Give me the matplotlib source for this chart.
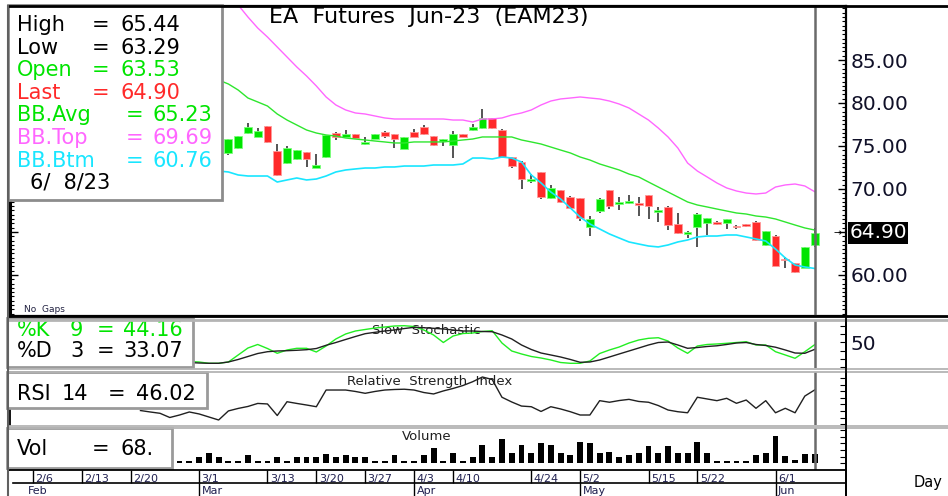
import numpy as np
import matplotlib.pyplot as plt
from matplotlib.patches import Rectangle
from matplotlib.lines import Line2D
from matplotlib.ticker import MultipleLocator

plt.rcParams['font.family'] = ['DejaVu Sans']

# ---- data (bar index 0 = 2/6) ----
date_ticks = [0, 5, 10, 17, 24, 29, 34, 39, 43, 51, 56, 63, 68, 76]
date_labels = ['2/6', '2/13', '2/20', '3/1', '3/13', '3/20', '3/27', '4/3',
               '4/10', '4/24', '5/2', '5/15', '5/22', '6/1']
month_ticks = [-0.8, 17, 39, 56, 76]
month_labels = ['Feb', 'Mar', 'Apr', 'May', 'Jun']

candle_start = 20
opens = [74.15, 74.8, 76.55, 76.08, 77.29, 74.42, 73.06, 73.52, 74.26, 72.44,
         73.69, 76.55, 76.05, 76.4, 75.2, 75.85, 76.67, 76.4, 74.62, 76.67,
         77.17, 76.12, 75.58, 75.08, 76.4, 76.86, 77.09, 78.22, 76.9, 73.72,
         73.14, 70.97, 71.98, 68.99, 69.84, 69.11, 68.99, 65.62, 67.41, 69.88,
         68.22, 68.34, 68.34, 69.26, 67.29, 67.95, 65.9, 64.8, 65.54, 66.01,
         66.2, 66.05, 65.74, 65.9, 66.2, 63.49, 64.57, 61.86, 61.36, 60.86, 63.53]
highs = [75.85, 76.2, 77.64, 77.06, 77.3, 75.27, 75.03, 74.55, 74.3, 74.03,
         76.3, 76.6, 76.83, 76.45, 76.0, 76.45, 76.7, 76.45, 76.1, 76.98,
         77.44, 76.15, 75.8, 76.78, 76.45, 77.6, 79.3, 78.25, 76.95, 73.75,
         73.2, 71.7, 72.0, 70.43, 69.9, 69.15, 69.0, 66.86, 68.9, 69.9,
         69.11, 69.3, 69.1, 69.3, 67.95, 68.0, 67.17, 65.1, 67.15, 66.65,
         66.25, 66.5, 65.8, 65.95, 66.25, 65.1, 64.6, 62.13, 61.4, 63.25, 65.44]
lows = [74.0, 74.6, 76.4, 76.0, 75.4, 71.5, 72.94, 73.41, 72.56, 72.4,
        73.57, 75.74, 76.0, 75.8, 75.15, 75.8, 75.97, 74.73, 74.6, 76.0,
        76.3, 75.0, 75.03, 73.57, 76.0, 76.8, 77.0, 76.94, 73.57, 72.48,
        70.04, 70.66, 68.8, 68.8, 68.34, 67.8, 66.28, 64.53, 67.26, 67.64,
        67.56, 68.3, 66.86, 66.55, 66.16, 65.23, 64.8, 64.27, 63.29, 64.65,
        65.82, 65.31, 65.31, 65.54, 64.0, 63.4, 61.0, 60.78, 60.25, 60.8, 63.29]
closes = [75.78, 76.13, 77.17, 76.78, 75.47, 71.59, 74.77, 74.5, 73.45, 72.76,
          76.24, 76.05, 76.4, 75.9, 75.5, 76.4, 76.2, 75.86, 76.05, 76.08,
          76.36, 75.08, 75.78, 76.4, 76.08, 77.21, 78.29, 77.09, 73.72, 72.72,
          71.13, 71.13, 69.07, 70.08, 68.45, 67.83, 66.59, 66.55, 68.84, 68.02,
          68.53, 68.65, 68.1, 68.06, 67.52, 65.82, 64.85, 65.04, 67.13, 66.59,
          65.97, 66.47, 65.54, 65.74, 64.07, 65.08, 61.05, 61.74, 60.31, 63.22, 64.90]

bb_start = 19
bb_top = [93.5, 92.33, 91.40, 90.00, 88.72, 87.67, 86.51, 85.35, 84.19, 83.14,
          81.98, 80.70, 79.77, 79.19, 78.84, 78.72, 78.49, 78.26, 78.14, 78.14,
          78.14, 78.14, 78.14, 78.14, 78.02, 78.02, 77.79, 78.14, 78.14, 78.26,
          78.60, 78.84, 79.19, 79.77, 80.23, 80.47, 80.58, 80.70, 80.58, 80.47,
          80.23, 79.88, 79.42, 78.72, 78.02, 77.09, 76.05, 74.77, 73.02, 72.09,
          71.40, 70.70, 70.12, 69.77, 69.53, 69.42, 69.53, 70.23, 70.47, 70.58,
          70.35, 69.69]
bb_avg = [82.67, 82.21, 81.51, 80.58, 80.12, 79.65, 78.72, 78.02, 77.44, 76.86,
          76.51, 76.28, 76.16, 75.93, 75.81, 75.70, 75.58, 75.47, 75.35, 75.35,
          75.47, 75.47, 75.47, 75.47, 75.58, 75.70, 75.81, 76.05, 76.05, 76.05,
          76.05, 75.70, 75.47, 75.23, 74.88, 74.53, 74.19, 73.72, 73.37, 72.91,
          72.56, 72.21, 71.74, 71.40, 70.81, 70.23, 69.65, 69.07, 68.49, 68.14,
          67.91, 67.67, 67.44, 67.21, 67.09, 66.86, 66.74, 66.51, 66.16, 65.81,
          65.47, 65.23]
bb_btm = [72.09, 71.98, 71.63, 71.51, 71.51, 71.51, 70.81, 71.05, 71.28, 71.05,
          71.16, 71.51, 71.98, 72.21, 72.33, 72.44, 72.44, 72.56, 72.56, 72.67,
          72.67, 72.67, 72.79, 72.79, 72.79, 72.91, 73.60, 73.60, 73.49, 73.72,
          73.60, 73.14, 71.63, 70.70, 69.65, 68.84, 67.79, 66.74, 65.93, 65.35,
          64.77, 64.30, 63.84, 63.60, 63.37, 63.26, 63.49, 63.84, 64.07, 64.42,
          64.53, 64.53, 64.65, 64.65, 64.42, 64.19, 63.95, 63.02, 61.98, 61.16,
          60.93, 60.76]

stoch_start = 16
stoch_k = [4.3, 3.1, 0, 0, 3.1, 19.8, 36.4, 44.8, 35.2, 23.8, 31.7, 35.7, 35.7,
           26.9, 41.2, 57.9, 69.8, 76.9, 80.5, 84.0, 86.4, 88.8, 89.5, 87.6, 79.3,
           67.4, 49.5, 65.0, 70.9, 72.1, 75.7, 77.6, 48.3, 29.3, 22.2, 16.2, 12.6,
           7.9, 1.9, 0, 0, 5.5, 23.3, 31.7, 38.8, 48.3, 55.5, 59.5, 60.9, 53.1,
           36.4, 23.8, 41.2, 44.8, 46.0, 47.6, 49.5, 51.4, 43.6, 43.6, 27.6, 19.8,
           11.9, 27.6, 44.16]
stoch_d = [1.9, 0.7, 0, 0, 3.1, 9.1, 16.2, 23.3, 27.6, 29.3, 30.0, 31.0, 32.4,
           35.2, 42.9, 49.5, 56.7, 63.8, 70.5, 73.8, 76.9, 79.3, 82.8, 85.7, 84.7,
           83.3, 81.7, 79.3, 76.9, 76.9, 75.7, 75.2, 67.4, 57.9, 43.6, 32.9, 24.5,
           19.8, 15.0, 9.1, 2.4, 3.1, 7.9, 15.0, 22.2, 29.3, 36.4, 43.6, 49.5, 50.7,
           43.6, 35.7, 37.6, 40.0, 41.7, 44.8, 48.3, 49.5, 44.8, 42.4, 38.3, 31.7,
           24.5, 23.8, 33.07]

rsi_start = 11
rsi = [30.4, 29.3, 28.3, 25.1, 27.0, 29.3, 27.8, 25.5, 23.2, 30.1, 32.0, 33.5,
       35.8, 35.4, 26.6, 37.1, 35.8, 34.6, 33.3, 46.0, 46.0, 46.0, 44.9, 43.5,
       44.9, 46.0, 46.4, 46.6, 46.0, 44.1, 43.0, 45.3, 47.2, 49.4, 52.3, 55.9,
       54.0, 40.5, 36.9, 33.8, 33.3, 29.7, 33.3, 31.6, 29.5, 27.0, 27.0, 37.9,
       36.7, 38.0, 38.9, 37.3, 36.7, 34.2, 30.8, 29.5, 28.7, 40.5, 39.2, 37.9,
       39.7, 35.9, 38.4, 32.1, 37.9, 28.7, 32.1, 28.7, 41.4, 46.02]

vol_start = 15
volume = [20, 20, 45, 75, 45, 20, 20, 62, 20, 20, 45, 20, 45, 50, 50, 68, 50, 62,
          50, 50, 20, 20, 62, 20, 20, 62, 118, 20, 80, 20,
          45, 137, 50, 180, 75, 137, 80, 155, 137, 75, 62, 163, 155, 75, 88, 45,
          62, 75, 130, 75, 130, 75, 80, 163, 80, 20, 20, 20, 20, 62, 75, 205, 55,
          25, 68, 68]

legend_rows = [('High', '65.44'), ('Low', '63.29'), ('Open', '63.53'),
               ('Last', '64.90'), ('BB.Avg', '65.23'), ('BB.Top', '69.69'),
               ('BB.Btm', '60.76')]

GREEN = '#00e400'
RED = '#ff2a2a'
MAGENTA = '#ff66ff'
CYAN = '#19e6ff'
BIG = 15
W, H = 948, 496

fig = plt.figure(figsize=(W / 100, H / 100), dpi=100)


def rect(x0, y0, x1, y1):
    return [x0 / W, 1 - y1 / H, (x1 - x0) / W, (y1 - y0) / H]


def fx(x):
    return x / W


def fy(y):
    return 1 - y / H


ax_p = fig.add_axes(rect(10, 6, 846, 316))
ax_s = fig.add_axes(rect(10, 320, 846, 368), sharex=ax_p)
ax_r = fig.add_axes(rect(10, 372, 846, 425), sharex=ax_p)
ax_v = fig.add_axes(rect(10, 428, 846, 470), sharex=ax_p)
ax_d = fig.add_axes(rect(10, 470, 846, 496), sharex=ax_p)

ax_p.set_xlim((10 - 33) / 9.77, (846 - 33) / 9.77)

# ---- price panel ----
ci = np.arange(candle_start, candle_start + len(opens))
o = np.array(opens); c = np.array(closes)
up = c >= o
ax_p.vlines(ci, lows, highs, color='#262626', lw=1.1, zorder=2)
ax_p.bar(ci, np.maximum(np.abs(c - o), 0.12), bottom=np.minimum(o, c), width=0.8,
         color=np.where(up, GREEN, RED), edgecolor=np.where(up, '#7cff7c', '#ff9a9a'),
         lw=0.6, zorder=3)
bi = np.arange(bb_start, bb_start + len(bb_avg))
ax_p.plot(bi, bb_top, color=MAGENTA, lw=1, zorder=4)
ax_p.plot(bi, bb_avg, color='#2ee62e', lw=1, zorder=4)
ax_p.plot(bi, bb_btm, color=CYAN, lw=1.2, zorder=4)
ax_p.set_ylim(55.23, 91.28)
ax_p.set_yticks([60, 65, 70, 75, 80, 85])
ax_p.set_yticklabels(['60.00', '', '70.00', '75.00', '80.00', '85.00'])
ax_p.yaxis.set_minor_locator(MultipleLocator(0.5))
ax_p.tick_params(axis='y', which='both', direction='in', left=True, right=True,
                 labelleft=False, labelright=True, labelsize=14.5, pad=3,
                 labelcolor='#101028')
ax_p.tick_params(axis='y', which='major', length=6, width=1)
ax_p.tick_params(axis='y', which='minor', length=3, width=0.8)
for s in ax_p.spines.values():
    s.set_linewidth(1.6)
ax_p.spines['left'].set_linewidth(2.2)
ax_p.text(1.004, 64.90, '64.90', transform=ax_p.get_yaxis_transform(),
          color='white', fontsize=14.5, va='center', ha='left',
          bbox=dict(facecolor='black', edgecolor='none', pad=1.0), clip_on=False)
ax_p.text(0.99, 64.90, '→', transform=ax_p.get_yaxis_transform(), fontsize=7,
          va='center', ha='center')
ax_p.text(fx(24), fy(310), 'No  Gaps', transform=fig.transFigure, fontsize=6.5,
          va='center', color='#202040')
ax_p.text(fx(429), fy(17), 'EA  Futures  Jun-23  (EAM23)', transform=fig.transFigure,
          fontsize=16, ha='center', va='center')

# legend box
ax_p.add_patch(Rectangle((fx(8), fy(200)), 214 / W, 195 / H, transform=fig.transFigure,
                         facecolor='white', edgecolor='#8c8c8c', lw=2, zorder=10,
                         clip_on=False))
row_colors = ['black', 'black', GREEN, RED, GREEN, MAGENTA, CYAN]
for k, (name, val) in enumerate(legend_rows):
    yb = 31 + 22.6 * k
    xe, xv = (92, 120) if k < 4 else (126, 152)
    for xx, t in ((17, name), (xe, '='), (xv, val)):
        ax_p.text(fx(xx), fy(yb), t, transform=fig.transFigure, fontsize=BIG,
                  color=row_colors[k], va='baseline', zorder=11, clip_on=False)
ax_p.text(fx(30), fy(189), '6/  8/23', transform=fig.transFigure, fontsize=BIG,
          va='baseline', zorder=11, clip_on=False)

# ---- stochastic ----
si = np.arange(stoch_start, stoch_start + len(stoch_k))
ax_s.plot(si, stoch_k, color='#22ee22', lw=1, zorder=3)
ax_s.plot(si, stoch_d, color='#202020', lw=1, zorder=3)
ax_s.set_ylim(-11.2, 103.1)
ax_s.set_yticks([-10, 10, 30, 50, 70, 90])
ax_s.set_yticklabels(['', '', '', '50', '', ''])
ax_s.text(fx(372), fy(330), 'Slow  Stochastic', transform=fig.transFigure,
          fontsize=9.5, va='center', zorder=2, color='#202020')
ax_s.add_patch(Rectangle((fx(7), fy(367)), 186 / W, 49 / H, transform=fig.transFigure,
                         facecolor='white', edgecolor='#9a9a9a', lw=2, zorder=10,
                         clip_on=False))
for yb, parts, col in ((336, ('%K', '9', '=', '44.16'), GREEN),
                       (357, ('%D', '3', '=', '33.07'), 'black')):
    for xx, t in zip((17, 70, 97, 123), parts):
        ax_s.text(fx(xx), fy(yb), t, transform=fig.transFigure, fontsize=BIG,
                  color=col, va='baseline', zorder=11, clip_on=True)

# ---- RSI ----
ri = np.arange(rsi_start, rsi_start + len(rsi))
ax_r.plot(ri, rsi, color='#202020', lw=1, zorder=3)
ax_r.set_ylim(19.4, 59.7)
ax_r.set_yticks(np.arange(20, 60, 5))
ax_r.set_yticklabels([])
ax_r.text(fx(347), fy(382), 'Relative  Strength  Index', transform=fig.transFigure,
          fontsize=9.5, va='center', zorder=2, color='#202020')
ax_r.add_patch(Rectangle((fx(7), fy(408)), 200 / W, 36 / H, transform=fig.transFigure,
                         facecolor='white', edgecolor='#9a9a9a', lw=2, zorder=10,
                         clip_on=False))
for xx, t in zip((17, 62, 108, 136), ('RSI', '14', '=', '46.02')):
    ax_r.text(fx(xx), fy(400), t, transform=fig.transFigure, fontsize=BIG,
              va='baseline', zorder=11, clip_on=False)

# ---- volume ----
vi = np.arange(vol_start, vol_start + len(volume))
ax_v.bar(vi, volume, width=0.6, color='black', zorder=3)
ax_v.set_ylim(-50, 265)
ax_v.set_yticks(np.arange(0, 251, 50))
ax_v.set_yticklabels([])
ax_v.text(fx(402), fy(437), 'Volume', transform=fig.transFigure, fontsize=9.5,
          va='center', zorder=2, color='#202020')
ax_v.add_patch(Rectangle((fx(7), fy(468)), 165 / W, 40 / H, transform=fig.transFigure,
                         facecolor='white', edgecolor='#9a9a9a', lw=2, zorder=10,
                         clip_on=False))
for xx, t in zip((17, 92, 120), ('Vol', '=', '68.')):
    ax_v.text(fx(xx), fy(455), t, transform=fig.transFigure, fontsize=BIG,
              va='baseline', zorder=11, clip_on=False)

for ax in (ax_s, ax_r, ax_v):
    ax.yaxis.tick_right()
    ax.tick_params(axis='y', direction='in', length=4, right=True, left=False,
                   labelsize=14.5, pad=3, labelcolor='#101028')
    ax.spines['top'].set_visible(False)
    ax.spines['bottom'].set_visible(False)
    ax.spines['right'].set_linewidth(1.3)
    ax.spines['left'].set_linewidth(1.3)

for ax in (ax_p, ax_s, ax_r, ax_v, ax_d):
    ax.tick_params(axis='x', bottom=False, top=False, labelbottom=False)

for ax in (ax_p, ax_s, ax_r, ax_v):
    ax.axvline(candle_start + len(opens) - 1, color='#6a6a6a', lw=1.8, zorder=5)

# ---- date axis ----
ax_d.set_ylim(0, 1)
ax_d.set_yticks([])
ax_d.spines['left'].set_visible(False)
ax_d.spines['bottom'].set_visible(False)
ax_d.spines['top'].set_linewidth(1.3)
ax_d.spines['right'].set_linewidth(1.3)
ax_d.axhline(0.49, xmin=0.004, color='black', lw=1.2)
ax_d.vlines(date_ticks, 0.49, 1, color='black', lw=1)
ax_d.vlines(month_ticks[1:], 0, 0.49, color='black', lw=1)
for t, lab in zip(date_ticks, date_labels):
    ax_d.text(t + 0.25, 0.66, lab, fontsize=8, va='center', color='#202050')
for t, lab in zip(month_ticks, month_labels):
    ax_d.text(t + 0.25, 0.19, lab, fontsize=8, va='center', color='#202050')

fig.text(fx(914), fy(483), 'Day', fontsize=10.5, va='center')


# ---- frame lines ----
def fline(xs, ys, color='black', lw=1.5):
    fig.add_artist(Line2D([fx(v) for v in xs], [fy(v) for v in ys],
                          transform=fig.transFigure, color=color, lw=lw))


fline([8, 948], [6, 6], lw=2)
fline([8, 948], [316, 316], lw=2)
fline([8, 948], [319.5, 319.5], color='#b4b4b4', lw=2)
fline([8, 948], [368.5, 368.5], color='#b4b4b4', lw=1.3)
fline([8, 948], [371.5, 371.5], color='#b4b4b4', lw=1.3)
fline([8, 948], [425.5, 425.5], color='#b4b4b4', lw=1.3)
fline([8, 948], [428, 428], color='#b4b4b4', lw=1.3)
fline([8, 8], [6, 496], color='#606060', lw=1.5)
fline([846, 846], [6, 496], lw=1.3)

fig.savefig('out.png', dpi=100)
